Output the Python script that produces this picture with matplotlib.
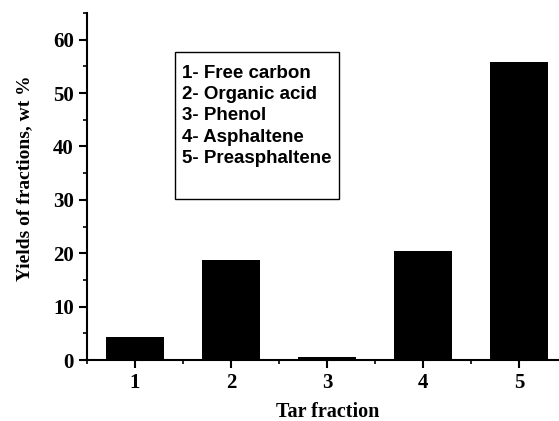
import matplotlib.pyplot as plt
from matplotlib.patches import Rectangle
from matplotlib.ticker import MultipleLocator

fractions = [1, 2, 3, 4, 5]
yields = [4.3, 18.7, 0.6, 20.5, 55.9]
legend_lines = ["1- Free carbon", "2- Organic acid", "3- Phenol",
                "4- Asphaltene", "5- Preasphaltene"]

serif = {'family': 'Liberation Serif', 'weight': 'bold'}

fig = plt.figure(figsize=(5.59, 4.21), dpi=100)
ax = fig.add_axes([87 / 559, 1 - 360 / 421, 482 / 559, 347 / 421])

ax.bar(fractions, yields, width=0.6, color='black')

ax.set_xlim(0.5, 5.52)
ax.set_ylim(0, 65)
ax.xaxis.set_major_locator(MultipleLocator(1))
ax.xaxis.set_minor_locator(MultipleLocator(0.5))
ax.yaxis.set_major_locator(MultipleLocator(10))
ax.yaxis.set_minor_locator(MultipleLocator(5))

for s in ['top', 'right']:
    ax.spines[s].set_visible(False)
for s in ['left', 'bottom']:
    ax.spines[s].set_linewidth(1.5)

ax.tick_params(which='major', direction='out', length=6, width=1.5)
ax.tick_params(which='minor', direction='out', length=3, width=1.2)
for lab in ax.get_xticklabels() + ax.get_yticklabels():
    lab.set_fontproperties(serif)
    lab.set_fontsize(15)

ax.set_xlabel("Tar fraction", fontdict=serif, fontsize=14.5, labelpad=6)
ax.set_ylabel("Yields of fractions, wt %", fontdict=serif, fontsize=14)
ax.yaxis.set_label_coords(-0.112, 0.524)

# legend-like text box
ax.add_patch(Rectangle((0.183, 0.464), 0.340, 0.424, transform=ax.transAxes,
                       facecolor='white', edgecolor='black', linewidth=1, zorder=3))
for i, line in enumerate(legend_lines):
    ax.text(0.198, 0.826 - i * 0.0614, line, transform=ax.transAxes,
            fontfamily='Liberation Sans', fontweight='bold', fontsize=13.5,
            va='center', ha='left', zorder=4)

fig.savefig("out.png", dpi=100)
